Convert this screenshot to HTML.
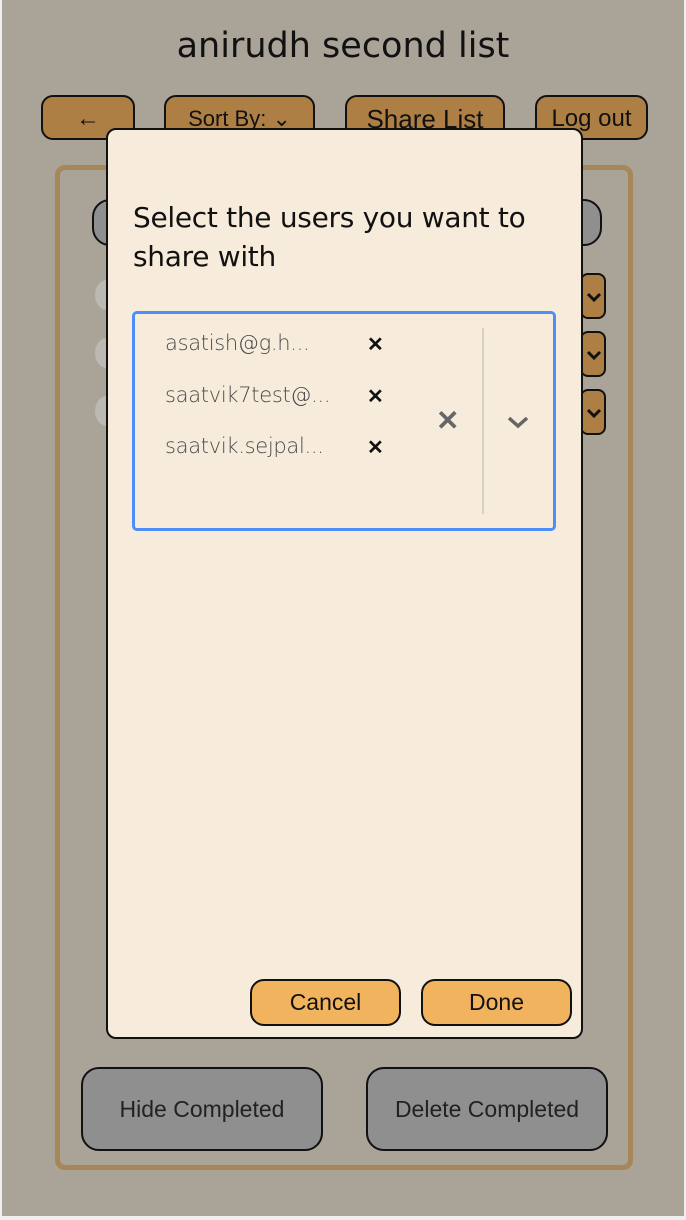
<!DOCTYPE html>
<html><head><style>
*{box-sizing:border-box;margin:0;padding:0}
body{width:686px;height:1220px;background:#efefef;position:relative;overflow:hidden;font-family:"Liberation Sans",sans-serif}
.bg{position:absolute;left:2px;top:0;width:682px;height:1216px;background:#aaa398}
.a{position:absolute}
.tb{position:absolute;top:95px;height:45px;background:#ad7f45;border:2px solid #111;border-radius:12px;font-size:24px;color:#111;text-align:center;line-height:44px}
.panel{left:55px;top:165px;width:578px;height:1005px;border:5px solid #a6875a;border-radius:10px}
.gb{position:absolute;background:#8f8f8f;border:2px solid #111;border-radius:18px;font-size:23px;color:#222;text-align:center;line-height:80px}
.ob{position:absolute;left:580px;width:26px;height:46px;background:#ad7f45;border:2px solid #111;border-radius:8px}
.ob svg{position:absolute;left:4px;top:17px}
.ci{position:absolute;left:95px;width:24px;height:30px;border-radius:50%;background:#bcb8b2}
.modal{left:106px;top:128px;width:477px;height:911px;background:#f7ecdb;border:2px solid #111;border-radius:10px}
.bt{position:absolute;top:979px;height:47px;width:151px;background:#f2b35e;border:2px solid #111;border-radius:14px;font-size:23px;text-align:center;line-height:43px;color:#111}
.chip{position:absolute;left:165px;font-size:21px;color:#4a4a4a;font-family:"DejaVu Sans","Liberation Sans",sans-serif;font-weight:300;letter-spacing:-0.3px}
.x{position:absolute;left:367px;font-size:20px;font-weight:bold;color:#111}
</style></head><body>
<div class="bg"></div>
<div class="a" style="left:0;top:26px;width:686px;text-align:center;font-size:35px;color:#111;font-family:'DejaVu Sans','Liberation Sans',sans-serif">anirudh second list</div>
<div class="tb" style="left:41px;width:94px">←</div>
<div class="tb" style="left:164px;width:151px;font-size:22px">Sort By: ⌄</div>
<div class="tb" style="left:345px;width:160px;font-size:26px">Share List</div>
<div class="tb" style="left:535px;width:113px">Log out</div>
<div class="a panel"></div>
<div class="gb" style="left:92px;top:199px;width:510px;height:47px"></div>
<div class="ob" style="top:273px"><svg width="16" height="10"><path d="M2 2 L8 8 L14 2" stroke="#111" stroke-width="3" fill="none"/></svg></div>
<div class="ob" style="top:331px"><svg width="16" height="10"><path d="M2 2 L8 8 L14 2" stroke="#111" stroke-width="3" fill="none"/></svg></div>
<div class="ob" style="top:389px"><svg width="16" height="10"><path d="M2 2 L8 8 L14 2" stroke="#111" stroke-width="3" fill="none"/></svg></div>
<div class="ci" style="top:280px"></div><div class="ci" style="top:338px"></div><div class="ci" style="top:396px"></div>
<div class="gb" style="left:81px;top:1067px;width:242px;height:84px">Hide Completed</div>
<div class="gb" style="left:366px;top:1067px;width:242px;height:84px">Delete Completed</div>
<div class="a modal"></div>
<div class="a" style="left:133px;top:198px;font-size:28px;line-height:39px;color:#111;font-family:'DejaVu Sans','Liberation Sans',sans-serif;width:420px;letter-spacing:-0.3px">Select the users you want to share with</div>
<div class="a" style="left:132px;top:311px;width:424px;height:220px;border:3px solid #4f8ef7;border-radius:5px"></div>
<div class="a" style="left:482px;top:328px;width:2px;height:186px;background:#d8d0c3"></div>
<div class="chip" style="top:331px">asatish@g.h...</div>
<div class="chip" style="top:383px">saatvik7test@...</div>
<div class="chip" style="top:434px">saatvik.sejpal...</div>
<div class="x" style="top:332px">✕</div>
<div class="x" style="top:384px">✕</div>
<div class="x" style="top:435px">✕</div>
<div class="a" style="left:436px;top:404px;font-size:28px;font-weight:bold;color:#666">✕</div>
<svg class="a" style="left:507px;top:415px" width="22" height="14"><path d="M2 3 L11 11 L20 3" stroke="#666" stroke-width="3.5" fill="none"/></svg>
<div class="bt" style="left:250px">Cancel</div>
<div class="bt" style="left:421px">Done</div>
</body></html>
